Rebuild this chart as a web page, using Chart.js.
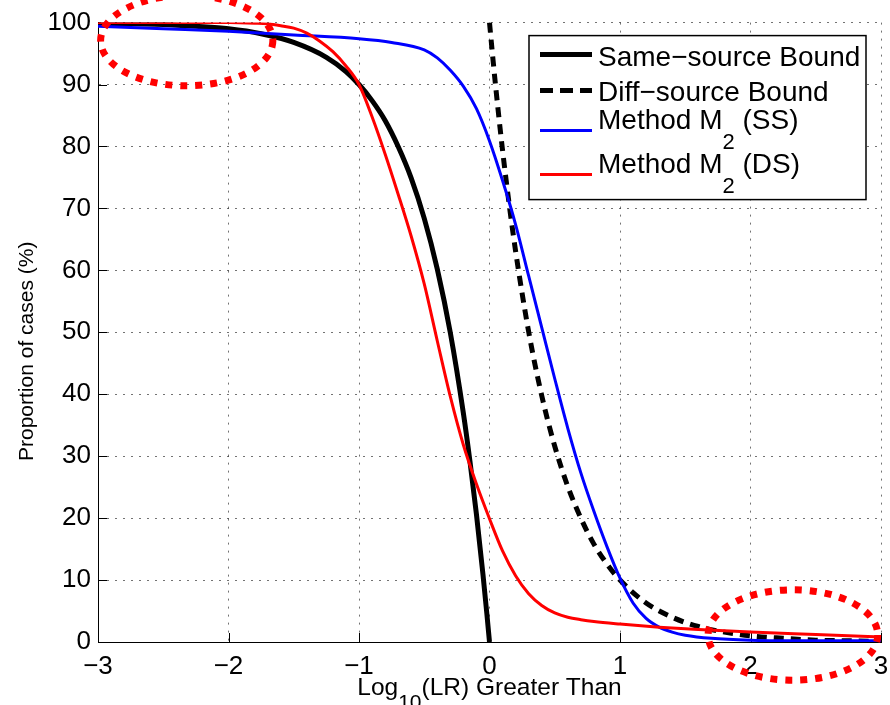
<!DOCTYPE html>
<html>
<head>
<meta charset="utf-8">
<script src="https://cdn.jsdelivr.net/npm/chart.js@4/dist/chart.umd.min.js"></script>
<style>
  html, body { margin: 0; padding: 0; background: #fff; overflow: hidden; }
  #wrap { position: relative; width: 890px; height: 705px; overflow: hidden; }
  #box { position: absolute; left: 0; top: 0; width: 910px; height: 705px; }
</style>
</head>
<body>
<div id="wrap"><div id="box"><canvas id="c"></canvas></div></div>
<script>
// Log10(LR) thresholds and proportion of cases (%) exceeding them
const sameX = [-3, -2.75, -2.5, -2.25, -2, -1.75, -1.5, -1.25, -1.1, -1, -0.9, -0.8, -0.7, -0.6, -0.5, -0.4, -0.3, -0.2, -0.15, -0.1, -0.05, -0.02, 0];
const sameY = [99.9, 99.8, 99.7, 99.4, 99.0, 98.2, 96.8, 94.4, 92.1, 90.0, 87.4, 84.2, 80.0, 74.9, 68.4, 60.2, 49.9, 36.9, 29.2, 20.6, 10.9, 4.5, 0];

const diffX = [0, 0.025, 0.05, 0.1, 0.15, 0.2, 0.3, 0.4, 0.5, 0.6, 0.7, 0.8, 0.9, 1.0, 1.2, 1.4, 1.6, 1.8, 2.0, 2.25, 2.5, 2.75, 3.0];
const diffY = [100, 94.4, 89.1, 79.4, 70.8, 63.1, 50.1, 39.8, 31.6, 25.1, 20.0, 15.8, 12.6, 10.0, 6.3, 4.0, 2.5, 1.6, 1.0, 0.6, 0.3, 0.2, 0.1];

const ssX = [-3, -2.5, -2, -1.5, -1, -0.75, -0.5, -0.4, -0.3, -0.2, -0.1, 0, 0.1, 0.2, 0.3, 0.4, 0.5, 0.6, 0.7, 0.8, 0.9, 1.0, 1.1, 1.2, 1.3, 1.4, 1.5, 1.7, 2.0, 2.5, 3.0];
const ssY = [99.4, 99.0, 98.6, 98.0, 97.4, 96.8, 95.6, 94.3, 92.3, 89.7, 86.1, 80.9, 74.5, 67.4, 59.1, 50.8, 42.5, 34.5, 27.3, 21.1, 15.4, 10.3, 6.3, 3.8, 2.4, 1.6, 1.1, 0.6, 0.3, 0.2, 0.2];

const dsX = [-3, -2.5, -2, -1.8, -1.7, -1.6, -1.5, -1.4, -1.3, -1.2, -1.1, -1, -0.9, -0.8, -0.7, -0.6, -0.5, -0.4, -0.3, -0.2, -0.1, 0, 0.1, 0.2, 0.3, 0.4, 0.5, 0.6, 0.7, 0.8, 1.0, 1.3, 1.6, 2.0, 2.5, 3.0];
const dsY = [100, 100, 100, 99.9, 99.8, 99.5, 99.1, 98.3, 97.0, 95.3, 93.0, 90.0, 84.8, 78.8, 72.3, 65.5, 57.8, 48.6, 39.6, 31.8, 25.5, 19.9, 14.7, 10.7, 7.8, 5.9, 4.7, 4.0, 3.6, 3.3, 2.9, 2.4, 2.0, 1.6, 1.2, 0.8];

// Axis ticks
const xTicks = [-3, -2, -1, 0, 1, 2, 3];
const yTicks = [0, 10, 20, 30, 40, 50, 60, 70, 80, 90, 100];

// Highlight ellipses, in data units (centre x, centre y, radius x, radius y)
const ellipseCX = [-2.32, 2.325];
const ellipseCY = [97.1, 1.13];
const ellipseRX = [0.66, 0.65];
const ellipseRY = [7.3, 7.3];

// Legend entries: text pieces, subscript flags
const legendItems = [
  { parts: [['Same\u2212source Bound', false]], color: '#000', width: 5, dash: [] },
  { parts: [['Diff\u2212source Bound', false]], color: '#000', width: 5, dash: [13, 7] },
  { parts: [['Method M', false], ['2', true], [' (SS)', false]], color: '#0000ff', width: 3, dash: [] },
  { parts: [['Method M', false], ['2', true], [' (DS)', false]], color: '#ff0000', width: 3, dash: [] }
];

const FONT = '"Liberation Sans", Arial, Helvetica, sans-serif';
const toPts = (xs, ys) => xs.map((x, i) => ({ x: x, y: ys[i] }));
const minus = v => (v < 0 ? '\u2212' + Math.abs(v) : String(v));

const decor = {
  id: 'decor',
  beforeDatasetsDraw(chart) {
    const { ctx, chartArea: a, scales: { x, y } } = chart;
    ctx.save();
    ctx.strokeStyle = '#000';
    ctx.lineWidth = 1;
    ctx.beginPath();
    xTicks.forEach(v => {
      const px = Math.round(x.getPixelForValue(v)) + 0.5;
      ctx.moveTo(px, a.bottom); ctx.lineTo(px, a.bottom - 9);
    });
    yTicks.forEach(v => {
      const py = Math.round(y.getPixelForValue(v)) + 0.5;
      ctx.moveTo(a.left, py); ctx.lineTo(a.left + 9, py);
    });
    ctx.stroke();
    ctx.restore();
  },
  afterDraw(chart) {
    const { ctx, chartArea: a, scales: { x, y } } = chart;
    ctx.save();

    // Legend box
    const bw = 337, bh = 164;
    const bx = a.right - 15 - bw, by = a.top + 13;
    ctx.fillStyle = '#fff';
    ctx.fillRect(bx, by, bw, bh);
    ctx.strokeStyle = '#000';
    ctx.lineWidth = 1.5;
    ctx.strokeRect(bx, by, bw, bh);
    const lineY = [19, 55, 95, 139];
    const baseY = [30, 65, 93, 137];
    legendItems.forEach((it, i) => {
      ctx.beginPath();
      ctx.strokeStyle = it.color;
      ctx.lineWidth = it.width;
      ctx.setLineDash(it.dash);
      ctx.moveTo(bx + 11, by + lineY[i]);
      ctx.lineTo(bx + 63, by + lineY[i]);
      ctx.stroke();
      ctx.setLineDash([]);
      let tx = bx + 69;
      ctx.fillStyle = '#000';
      ctx.textBaseline = 'alphabetic';
      ctx.textAlign = 'left';
      it.parts.forEach(([t, sub]) => {
        ctx.font = (sub ? '22px ' : '28px ') + FONT;
        ctx.fillText(t, tx, by + baseY[i] + (sub ? 20 : 0));
        tx += ctx.measureText(t).width;
      });
    });

    // X axis title with subscript
    ctx.fillStyle = '#000';
    ctx.textBaseline = 'alphabetic';
    ctx.textAlign = 'left';
    const xParts = [['Log', false], ['10', true], ['(LR) Greater Than', false]];
    let total = 0;
    xParts.forEach(([t, sub]) => { ctx.font = (sub ? '21px ' : '24.5px ') + FONT; total += ctx.measureText(t).width; });
    let tx = (a.left + a.right) / 2 - total / 2;
    xParts.forEach(([t, sub]) => {
      ctx.font = (sub ? '21px ' : '24.5px ') + FONT;
      ctx.fillText(t, tx, a.bottom + 53 + (sub ? 14 : 0));
      tx += ctx.measureText(t).width;
    });

    // Y axis title
    ctx.save();
    ctx.translate(33, (a.top + a.bottom) / 2 + 19);
    ctx.rotate(-Math.PI / 2);
    ctx.textAlign = 'center';
    ctx.font = '21px ' + FONT;
    ctx.fillText('Proportion of cases (%)', 0, 0);
    ctx.restore();

    // Dotted highlight ellipses
    ctx.strokeStyle = '#ff0000';
    ctx.lineWidth = 7;
    ctx.setLineDash([7, 8]);
    ellipseCX.forEach((cx, i) => {
      const px = x.getPixelForValue(cx);
      const py = y.getPixelForValue(ellipseCY[i]);
      const rx = Math.abs(x.getPixelForValue(cx + ellipseRX[i]) - px);
      const ry = Math.abs(y.getPixelForValue(ellipseCY[i] + ellipseRY[i]) - py);
      ctx.beginPath();
      ctx.ellipse(px, py, rx, ry, 0, 0, Math.PI * 2);
      ctx.stroke();
    });
    ctx.restore();
  }
};

new Chart(document.getElementById('c'), {
  type: 'line',
  data: {
    datasets: [
      { label: 'Same\u2212source Bound', data: toPts(sameX, sameY), borderColor: '#000', borderWidth: 5, order: 3 },
      { label: 'Diff\u2212source Bound', data: toPts(diffX, diffY), borderColor: '#000', borderWidth: 5, borderDash: [10, 7], order: 2 },
      { label: 'Method M2 (SS)', data: toPts(ssX, ssY), borderColor: '#0000ff', borderWidth: 3, order: 1 },
      { label: 'Method M2 (DS)', data: toPts(dsX, dsY), borderColor: '#ff0000', borderWidth: 3, order: 0 }
    ]
  },
  options: {
    responsive: true,
    maintainAspectRatio: false,
    animation: false,
    devicePixelRatio: 1,
    layout: { padding: { top: 22, right: 29, left: 0, bottom: 0 } },
    elements: {
      point: { radius: 0, hoverRadius: 0 },
      line: { cubicInterpolationMode: 'monotone', fill: false }
    },
    plugins: { legend: { display: false }, tooltip: { enabled: false } },
    scales: {
      x: {
        type: 'linear', min: -3, max: 3,
        afterFit: s => { s.height = 63; },
        ticks: { stepSize: 1, color: '#000', padding: 9, font: { size: 26, family: FONT }, callback: v => minus(v), maxRotation: 0 },
        grid: { color: 'rgba(0,0,0,0.55)', lineWidth: 1, drawTicks: false },
        border: { display: true, color: '#000', width: 1, dash: [2, 6] }
      },
      y: {
        type: 'linear', min: 0, max: 100,
        afterFit: s => { s.width = 98; },
        ticks: { stepSize: 10, color: '#000', padding: 7, font: { size: 26, family: FONT } },
        grid: { color: 'rgba(0,0,0,0.55)', lineWidth: 1, drawTicks: false },
        border: { display: true, color: '#000', width: 1, dash: [2, 6] }
      }
    }
  },
  plugins: [decor]
});
</script>
</body>
</html>
